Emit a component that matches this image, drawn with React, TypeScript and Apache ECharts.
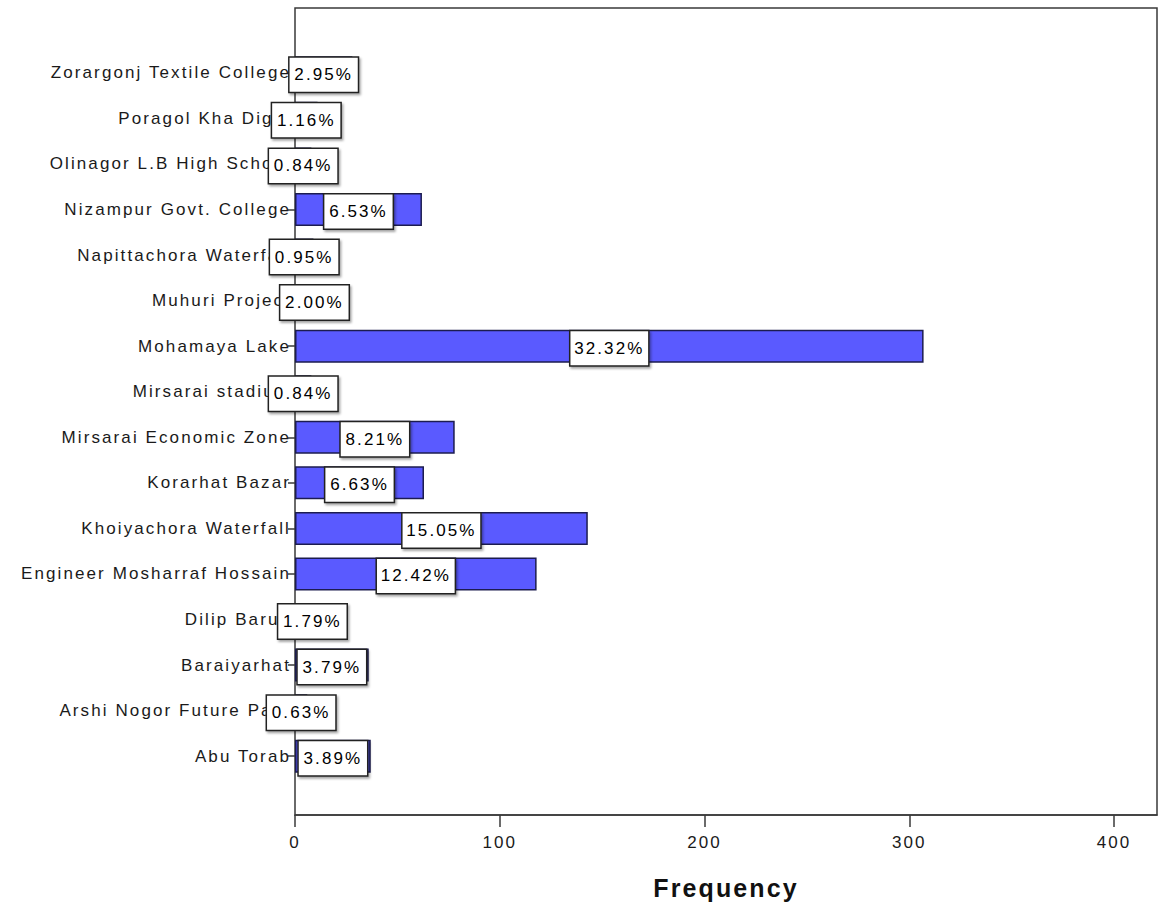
import React, { useEffect, useRef } from "react";
import * as echarts from "echarts";

// Visitor counts per tourist spot
const categories = [
  "Abu Torab",
  "Arshi Nogor Future Park",
  "Baraiyarhat",
  "Dilip Barua",
  "Engineer Mosharraf Hossain",
  "Khoiyachora Waterfall",
  "Korarhat Bazar",
  "Mirsarai Economic Zone",
  "Mirsarai stadium",
  "Mohamaya Lake",
  "Muhuri Project",
  "Napittachora Waterfall",
  "Nizampur Govt. College",
  "Olinagor L.B High School",
  "Poragol Kha Dighi",
  "Zorargonj Textile College",
];
const frequencies = [37, 6, 36, 17, 118, 143, 63, 78, 8, 307, 19, 9, 62, 8, 11, 28];
const tickMax = 400;
const xMax = 421;

const FONT = "'Liberation Sans', Arial, sans-serif";
const FRAME = "#3a3a3a";

const PLOT_LEFT = 295;
const PLOT_RIGHT = 4;
// right offset of a grid whose width spans 0..tickMax on the same scale
const TICK_RIGHT = Math.round(
  PLOT_RIGHT + ((1161 - PLOT_LEFT - PLOT_RIGHT) * (xMax - tickMax)) / xMax
);

export default function App() {
  const ref = useRef<HTMLDivElement>(null);

  useEffect(() => {
    if (!ref.current) return;
    const chart = echarts.init(ref.current, undefined, { renderer: "svg" });
    const total = frequencies.reduce((a, b) => a + b, 0);

    chart.setOption({
      animation: false,
      backgroundColor: "#ffffff",
      textStyle: { fontFamily: FONT },
      grid: [
        // outer frame holding the frequency axis line and title
        {
          left: PLOT_LEFT,
          right: PLOT_RIGHT,
          top: 8,
          bottom: 94,
          show: true,
          borderColor: FRAME,
          borderWidth: 1.5,
          backgroundColor: "transparent",
        },
        // inner band where the bars sit
        { left: PLOT_LEFT, right: PLOT_RIGHT, top: 50, bottom: 130 },
        // tick band: 0..400 only
        { left: PLOT_LEFT, right: TICK_RIGHT, top: 8, bottom: 94 },
      ],
      xAxis: [
        {
          gridIndex: 0,
          type: "value",
          min: 0,
          max: xMax,
          splitLine: { show: false },
          axisLine: { show: true, lineStyle: { color: FRAME, width: 1.5 } },
          axisTick: { show: false },
          axisLabel: { show: false },
          name: "Frequency",
          nameLocation: "middle",
          nameGap: 60,
          nameTextStyle: {
            color: "#111",
            fontSize: 25,
            fontWeight: "bold",
            fontFamily: FONT,
          },
        },
        {
          gridIndex: 1,
          type: "value",
          min: 0,
          max: xMax,
          show: false,
        },
        {
          gridIndex: 2,
          type: "value",
          min: 0,
          max: tickMax,
          interval: 100,
          splitLine: { show: false },
          axisLine: { show: false },
          axisTick: {
            show: true,
            inside: false,
            length: 12,
            lineStyle: { color: FRAME, width: 1.5 },
          },
          axisLabel: {
            color: "#1a1a1a",
            fontSize: 17,
            fontFamily: FONT,
            margin: 19,
          },
        },
      ],
      yAxis: [
        { gridIndex: 0, type: "value", show: false },
        {
          gridIndex: 1,
          type: "category",
          data: categories,
          axisLine: { show: false },
          axisTick: {
            show: true,
            alignWithLabel: true,
            length: 7,
            lineStyle: { color: FRAME, width: 1.5 },
          },
          axisLabel: {
            interval: 0,
            color: "#1a1a1a",
            fontSize: 17,
            fontFamily: FONT,
            margin: 4,
          },
          splitLine: { show: false },
        },
        { gridIndex: 2, type: "value", show: false },
      ],
      series: [
        {
          type: "bar",
          xAxisIndex: 1,
          yAxisIndex: 1,
          data: frequencies,
          barWidth: 33,
          itemStyle: {
            color: "#5a5aff",
            borderColor: "#1c1c50",
            borderWidth: 1.5,
          },
          label: {
            show: true,
            position: "inside",
            offset: [0, 2],
            formatter: (p: any) => ((p.value / total) * 100).toFixed(2) + "%",
            color: "#000",
            fontSize: 17,
            fontFamily: FONT,
            backgroundColor: "#ffffff",
            borderColor: "#222222",
            borderWidth: 1.5,
            padding: [9, 10, 8, 10],
            shadowColor: "rgba(0,0,0,0.35)",
            shadowOffsetX: 1.5,
            shadowOffsetY: 2,
            shadowBlur: 2,
          },
        },
      ],
    });

    return () => chart.dispose();
  }, []);

  return (
    <>
      <style>{`.spss-chart text { letter-spacing: 2.1px !important; }`}</style>
      <div
        ref={ref}
        className="spss-chart"
        style={{ position: "fixed", left: 0, top: 0, width: 1161, height: 909 }}
      />
    </>
  );
}
